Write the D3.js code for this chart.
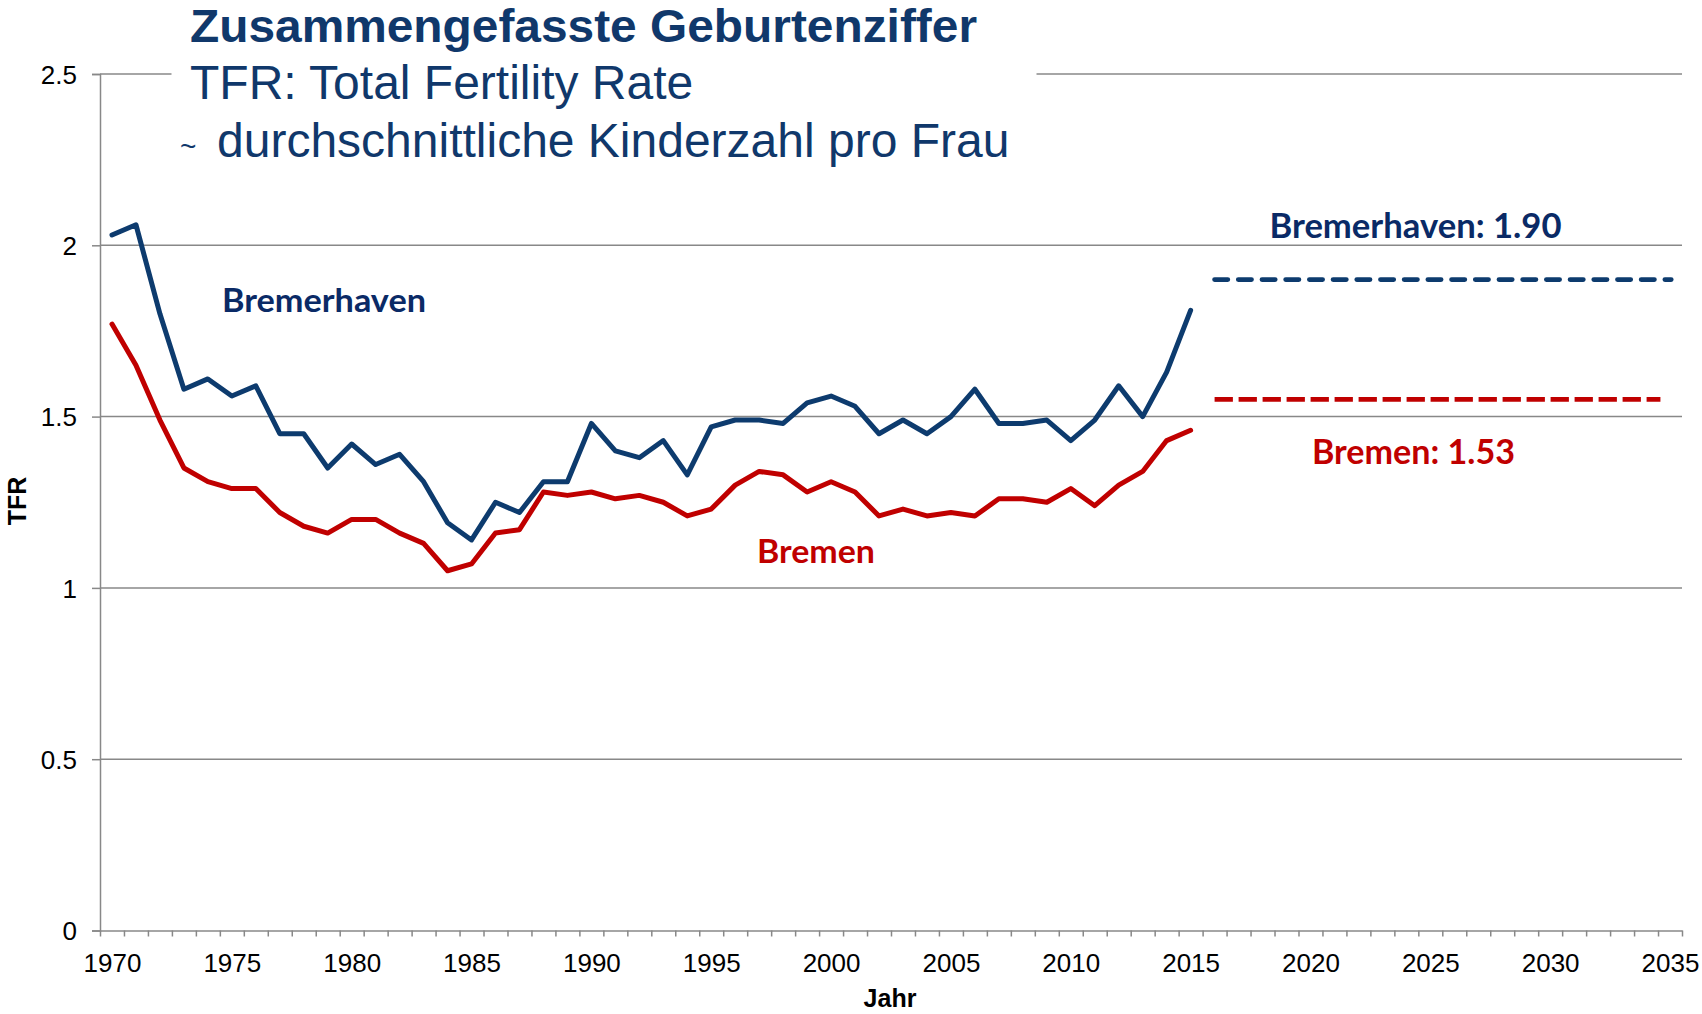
<!DOCTYPE html>
<html><head><meta charset="utf-8">
<script src="https://cdn.jsdelivr.net/npm/d3@7"></script>
<style>body{margin:0;background:#fff}svg{display:block}</style>
</head><body>
<svg id="chart" width="1702" height="1014"></svg>
<script>
// ---- data ----
const years = [1970,1971,1972,1973,1974,1975,1976,1977,1978,1979,
               1980,1981,1982,1983,1984,1985,1986,1987,1988,1989,
               1990,1991,1992,1993,1994,1995,1996,1997,1998,1999,
               2000,2001,2002,2003,2004,2005,2006,2007,2008,2009,
               2010,2011,2012,2013,2014,2015];
const bremerhaven = [2.03,2.06,1.80,1.58,1.61,1.56,1.59,1.45,1.45,1.35,
                     1.42,1.36,1.39,1.31,1.19,1.14,1.25,1.22,1.31,1.31,
                     1.48,1.40,1.38,1.43,1.33,1.47,1.49,1.49,1.48,1.54,
                     1.56,1.53,1.45,1.49,1.45,1.50,1.58,1.48,1.48,1.49,
                     1.43,1.49,1.59,1.50,1.63,1.81];
const bremen = [1.77,1.65,1.49,1.35,1.31,1.29,1.29,1.22,1.18,1.16,
                1.20,1.20,1.16,1.13,1.05,1.07,1.16,1.17,1.28,1.27,
                1.28,1.26,1.27,1.25,1.21,1.23,1.30,1.34,1.33,1.28,
                1.31,1.28,1.21,1.23,1.21,1.22,1.21,1.26,1.26,1.25,
                1.29,1.24,1.30,1.34,1.43,1.46];
const projBremerhavenYears = [2016, 2035.05];
const projBremerhavenValues = [1.90, 1.90];
const projBremenYears = [2016, 2034.6];
const projBremenValues = [1.55, 1.55];
const yTicks = [0, 0.5, 1, 1.5, 2, 2.5];
const yTickLabels = ["0", "0.5", "1", "1.5", "2", "2.5"];
const xLabelYears = [1970,1975,1980,1985,1990,1995,2000,2005,2010,2015,2020,2025,2030,2035];
const titleLines = ["Zusammengefasste Geburtenziffer", "TFR: Total Fertility Rate", "durchschnittliche Kinderzahl pro Frau"];
const labelBremerhaven = "Bremerhaven";
const labelBremen = "Bremen";
const labelProjBremerhaven = "Bremerhaven: 1.90";
const labelProjBremen = "Bremen: 1.53";

// ---- styles ----
const BLUE = "#0d3b6e", BLUE_TXT = "#0a2a66", RED = "#c00000", TITLE = "#10386b", GRID = "#888888";
const ARIAL = "'Liberation Sans', Arial, sans-serif";
const CALIBRI = "Lato, 'Open Sans', sans-serif";

const svg = d3.select("#chart");
const x = d3.scaleLinear().domain([1969.5, 2035.5]).range([100, 1682]);
const y = d3.scaleLinear().domain([0, 2.5]).range([930.5, 74]);

// gridlines
svg.append("g").selectAll("line").data(yTicks.filter(v => v > 0)).join("line")
  .attr("x1", x(1969.5)).attr("x2", x(2035.5))
  .attr("y1", d => y(d)).attr("y2", d => y(d))
  .attr("stroke", GRID).attr("stroke-width", 1.5);

// white title box interrupting top gridline
svg.append("rect").attr("x", 171.5).attr("y", 0).attr("width", 865).attr("height", 170).attr("fill", "#fff");

// y axis
const yAxis = svg.append("g").attr("transform", `translate(${x(1969.5)},0)`)
  .call(d3.axisLeft(y).tickValues(yTicks).tickSize(8).tickPadding(15)
        .tickFormat((d, i) => yTickLabels[i]));
yAxis.select(".domain").attr("stroke", GRID).attr("stroke-width", 1.5);
yAxis.selectAll(".tick line").attr("stroke", GRID).attr("stroke-width", 1.5);
yAxis.selectAll(".tick text").attr("font-family", ARIAL).attr("font-size", 26).attr("fill", "#000").attr("dy", "0.36em");

// x axis (ticks between categories)
const xTickVals = d3.range(1969.5, 2036, 1);
const xAxis = svg.append("g").attr("transform", `translate(0,${y(0)})`)
  .call(d3.axisBottom(x).tickValues(xTickVals).tickSize(6).tickSizeOuter(0).tickFormat(""));
xAxis.select(".domain").attr("stroke", GRID).attr("stroke-width", 1.5);
xAxis.selectAll(".tick line").attr("stroke", GRID).attr("stroke-width", 1.5);
const xLab = svg.append("g").attr("transform", `translate(0,${y(0)})`)
  .call(d3.axisBottom(x).tickValues(xLabelYears).tickSize(0).tickFormat(d3.format("d")));
xLab.select(".domain").remove();
xLab.selectAll(".tick text").attr("font-family", ARIAL).attr("font-size", 26).attr("fill", "#000")
  .attr("y", 41).attr("dy", 0);

// axis titles
svg.append("text").attr("transform", "translate(26,501) rotate(-90)").attr("text-anchor", "middle")
  .attr("font-family", ARIAL).attr("font-weight", "bold").attr("font-size", 25).text("TFR");
svg.append("text").attr("x", 890).attr("y", 1007).attr("text-anchor", "middle")
  .attr("font-family", ARIAL).attr("font-weight", "bold").attr("font-size", 25).text("Jahr");

// series
const line = d3.line().x(d => x(d[0])).y(d => y(d[1]));
svg.append("path").datum(years.map((yr, i) => [yr, bremerhaven[i]])).attr("d", line)
  .attr("fill", "none").attr("stroke", BLUE).attr("stroke-width", 5)
  .attr("stroke-linejoin", "round").attr("stroke-linecap", "round");
svg.append("path").datum(years.map((yr, i) => [yr, bremen[i]])).attr("d", line)
  .attr("fill", "none").attr("stroke", RED).attr("stroke-width", 5)
  .attr("stroke-linejoin", "round").attr("stroke-linecap", "round");

// projections
svg.append("path").datum(projBremerhavenYears.map((yr, i) => [yr, projBremerhavenValues[i]])).attr("d", line)
  .attr("fill", "none").attr("stroke", BLUE).attr("stroke-width", 4.8)
  .attr("stroke-linecap", "round").attr("stroke-dasharray", "13.2 10.5");
svg.append("path").datum(projBremenYears.map((yr, i) => [yr, projBremenValues[i]])).attr("d", line)
  .attr("fill", "none").attr("stroke", RED).attr("stroke-width", 4.8)
  .attr("stroke-linecap", "butt").attr("stroke-dasharray", "18.3 5.7");

// annotation labels
function lab(txt, xx, yy, w, fs, col) {
  svg.append("text").attr("x", xx).attr("y", yy).attr("font-family", CALIBRI).attr("font-weight", "bold")
    .attr("font-size", fs).attr("fill", col).attr("textLength", w).attr("lengthAdjust", "spacingAndGlyphs").text(txt);
}
lab(labelBremerhaven, 222, 311.5, 204, 32, BLUE_TXT);
lab(labelBremen, 757, 563, 118, 32, RED);
lab(labelProjBremerhaven, 1269.5, 238, 292, 33.5, BLUE_TXT);
lab(labelProjBremen, 1312, 464, 203, 33.5, RED);

// title
const tg = svg.append("g").attr("font-family", ARIAL).attr("fill", TITLE);
tg.append("text").attr("x", 190).attr("y", 41.5).attr("font-size", 45.5).attr("font-weight", "bold")
  .attr("textLength", 787).attr("lengthAdjust", "spacingAndGlyphs").text(titleLines[0]);
tg.append("text").attr("x", 190).attr("y", 98.5).attr("font-size", 48).text(titleLines[1]);
tg.append("text").attr("x", 180).attr("y", 156).attr("font-size", 28).text("~");
tg.append("text").attr("x", 217).attr("y", 157).attr("font-size", 48).text(titleLines[2]);
</script>
</body></html>
